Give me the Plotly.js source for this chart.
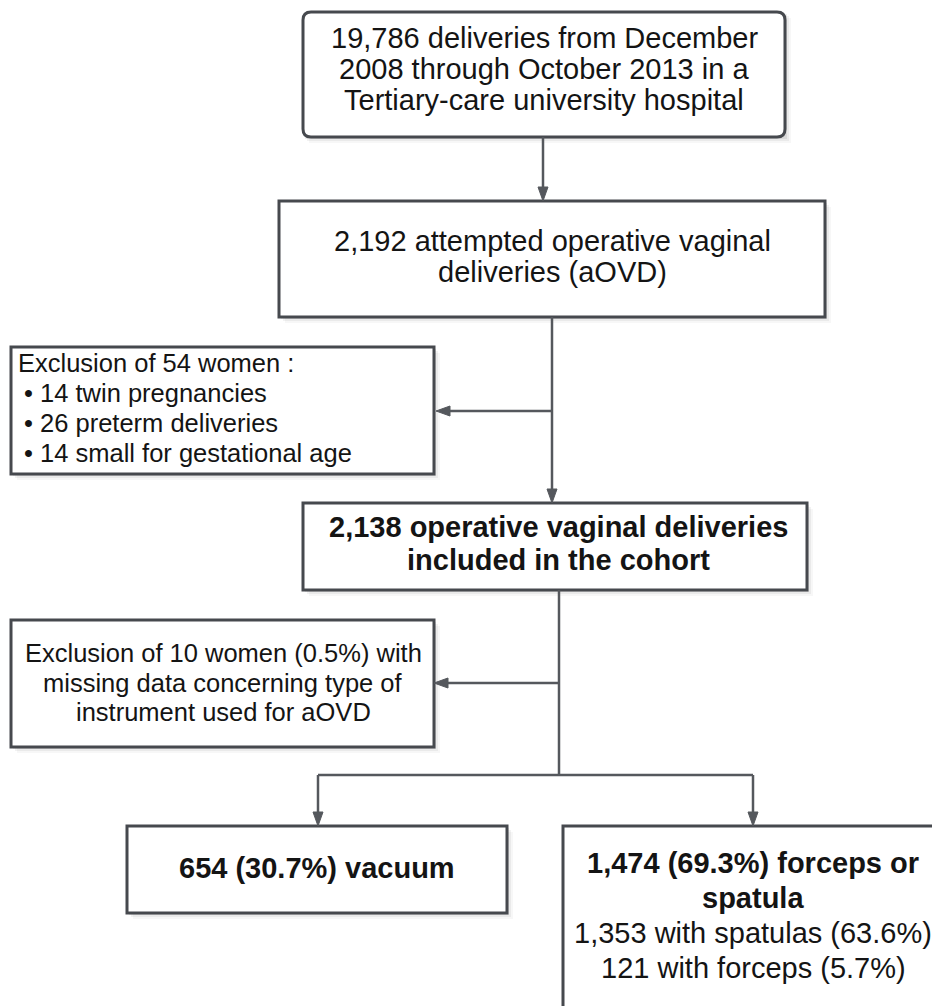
<!DOCTYPE html>
<html>
<head>
<meta charset="utf-8">
<script src="https://cdn.plot.ly/plotly-3.0.1.min.js"></script>
<style>html,body{margin:0;padding:0;background:#fff;}#chart{width:932px;height:1006px;}</style>
</head>
<body>
<div id="chart"></div>
<script>
// ---- chart content (flow counts and box texts) ----
const topLines = ["19,786 deliveries from December", "2008 through October 2013 in a", "Tertiary-care university hospital"];
const aovdLines = ["2,192 attempted operative vaginal", "deliveries (aOVD)"];
const excl1Title = ["Exclusion of 54 women :"];
const excl1Items = ["• 14 twin pregnancies", "• 26 preterm deliveries", "• 14 small for gestational age"];
const cohortLines = ["2,138 operative vaginal deliveries", "included in the cohort"];
const excl2Lines = ["Exclusion of 10 women (0.5%) with", "missing data concerning type of", "instrument used for aOVD"];
const vacuumLines = ["654 (30.7%) vacuum"];
const forcepsBold = ["1,474 (69.3%) forceps or", "spatula"];
const forcepsLines = ["1,353 with spatulas (63.6%)", "121 with forceps (5.7%)"];

// ---- layout geometry (pixels in a 932x1006 frame) ----
const FONT = "Liberation Sans, Arial, sans-serif";
const BORDER = "#46494e";
const LINK = "#55585d";
const TXT = "#141414";

const shapes = [];
const annotations = [];

function shadow(x0, y0, x1, y1) {
  [[2, 0.07], [4, 0.05], [6, 0.03]].forEach(([o, a]) => {
    shapes.push({type: "rect", xref: "x", yref: "y", x0: x0 + o, y0: y0 + o, x1: x1 + o, y1: y1 + o,
      line: {width: 0}, fillcolor: "rgba(0,0,0," + a + ")", layer: "below"});
  });
}
function box(x0, y0, x1, y1) {
  shadow(x0, y0, x1, y1);
  shapes.push({type: "rect", xref: "x", yref: "y", x0: x0, y0: y0, x1: x1, y1: y1,
    line: {color: BORDER, width: 3}, fillcolor: "#ffffff", layer: "below"});
}
function roundBox(x0, y0, x1, y1, r) {
  shadow(x0, y0, x1, y1);
  const p = `M ${x0 + r},${y0} L ${x1 - r},${y0} Q ${x1},${y0} ${x1},${y0 + r} L ${x1},${y1 - r} Q ${x1},${y1} ${x1 - r},${y1} L ${x0 + r},${y1} Q ${x0},${y1} ${x0},${y1 - r} L ${x0},${y0 + r} Q ${x0},${y0} ${x0 + r},${y0} Z`;
  shapes.push({type: "path", xref: "x", yref: "y", path: p, line: {color: BORDER, width: 3}, fillcolor: "#ffffff", layer: "below"});
}
function seg(x0, y0, x1, y1) {
  shapes.push({type: "line", xref: "x", yref: "y", x0: x0, y0: y0, x1: x1, y1: y1, line: {color: LINK, width: 2.5}});
}
function headDown(x, y) {
  const L = 14, W = 5;
  shapes.push({type: "path", xref: "x", yref: "y", path: `M ${x},${y} L ${x - W},${y - L} L ${x + W},${y - L} Z`,
    line: {color: LINK, width: 1}, fillcolor: LINK});
}
function headLeft(x, y) {
  const L = 14, W = 5;
  shapes.push({type: "path", xref: "x", yref: "y", path: `M ${x},${y} L ${x + L},${y - W} L ${x + L},${y + W} Z`,
    line: {color: LINK, width: 1}, fillcolor: LINK});
}
function lines(arr, x, ys, size, opts) {
  opts = opts || {};
  arr.forEach((t, i) => {
    annotations.push({xref: "x", yref: "y", x: x, y: ys[i], text: opts.bold ? "<b>" + t + "</b>" : t,
      showarrow: false, xanchor: opts.align || "center", yanchor: "middle",
      font: {family: FONT, size: size, color: TXT}});
  });
}

// boxes
roundBox(303, 12, 785, 137, 8);
box(279, 201, 825, 317);
box(11, 347, 434, 474);
box(303, 503, 807, 590);
box(11, 620, 434, 747);
box(127, 826, 507, 913);
box(563, 826, 943, 1030);

// connectors
seg(543, 137, 543, 192); headDown(543, 201);
seg(552, 317, 552, 494); headDown(552, 503);
seg(552, 411, 446, 411); headLeft(436, 411);
seg(559, 590, 559, 775);
seg(559, 683, 444, 683); headLeft(434, 683);
seg(318, 775, 753, 775);
seg(318, 775, 318, 817); headDown(318, 826);
seg(753, 775, 753, 817); headDown(753, 826);

// texts
lines(topLines, 544, [38, 69, 100], 29);
lines(aovdLines, 552, [241, 272], 29);
lines(excl1Title, 16, [363], 25.5, {align: "left"});
lines(excl1Items, 22, [393, 423, 453], 25.5, {align: "left"});
lines(cohortLines, 558, [527, 560], 29, {bold: true});
lines(excl2Lines, 223, [653, 683, 712], 25.5);
lines(vacuumLines, 317, [868], 29, {bold: true});
lines(forcepsBold, 753, [863, 898], 29, {bold: true});
lines(forcepsLines, 753, [933, 968], 29);

const layout = {
  width: 932, height: 1006,
  margin: {l: 0, r: 0, t: 0, b: 0},
  paper_bgcolor: "#ffffff", plot_bgcolor: "#ffffff",
  showlegend: false,
  xaxis: {range: [0, 932], visible: false, fixedrange: true},
  yaxis: {range: [1006, 0], visible: false, fixedrange: true},
  shapes: shapes,
  annotations: annotations
};

Plotly.newPlot("chart", [], layout, {staticPlot: true, displayModeBar: false});
</script>
</body>
</html>
